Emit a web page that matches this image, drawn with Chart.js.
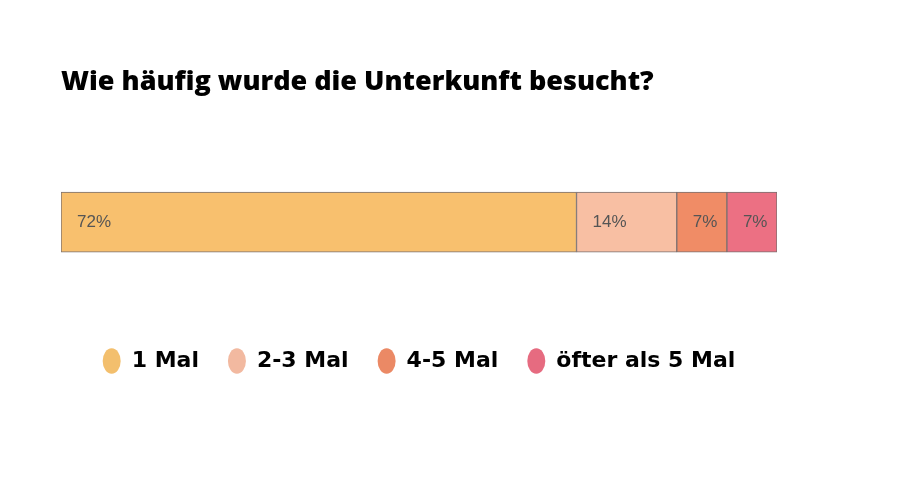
<!DOCTYPE html>
<html>
<head>
<meta charset="utf-8">
<script src="https://cdn.jsdelivr.net/npm/chart.js@4"></script>
<style>
  html, body { margin: 0; padding: 0; background: #fff; }
  #wrap { width: 900px; height: 501px; }
</style>
</head>
<body>
<div id="wrap"><canvas id="chart" width="900" height="501"></canvas></div>
<script>
// Daten
const categories = ["1 Mal", "2-3 Mal", "4-5 Mal", "öfter als 5 Mal"];
const values = [72, 14, 7, 7];
const colors = ["#f8c06e", "#f8bfa3", "#f08c66", "#ec7083"];
const legendColors = ["#f3bf6d", "#f2b9a0", "#eb8965", "#e66b80"];

// Prozentwerte in den Balken
const valueLabelPlugin = {
    id: "valueLabels",
    afterDatasetsDraw(chart) {
        const { ctx } = chart;
        ctx.save();
        ctx.font = "17px 'Liberation Sans', Arial, sans-serif";
        ctx.fillStyle = "#555555";
        ctx.textBaseline = "middle";
        ctx.textAlign = "left";
        chart.data.datasets.forEach((ds, i) => {
            const bar = chart.getDatasetMeta(i).data[0];
            const left = Math.min(bar.x, bar.base);
            ctx.fillText(ds.data[0] + "%", left + 16, bar.y);
        });
        ctx.restore();
    }
};

new Chart(document.getElementById("chart"), {
    type: "bar",
    data: {
        labels: [""],
        datasets: categories.map((c, i) => ({
            label: c,
            data: [values[i]],
            backgroundColor: colors[i],
            borderColor: "#7a7070",
            borderWidth: 1,
            borderSkipped: false,
            barThickness: 60
        }))
    },
    options: {
        indexAxis: "y",
        responsive: false,
        animation: false,
        layout: {
            padding: { left: 61, right: 123, top: 66, bottom: 119 }
        },
        scales: {
            x: { stacked: true, min: 0, max: 100, display: false },
            y: { stacked: true, display: false }
        },
        plugins: {
            title: {
                display: true,
                text: "Wie häufig wurde die Unterkunft besucht?",
                align: "start",
                color: "#000",
                font: { family: "Open Sans", size: 27, weight: 800 },
                padding: { top: 0, bottom: 25 }
            },
            legend: {
                position: "bottom",
                labels: {
                    usePointStyle: true,
                    pointStyle: "circle",
                    boxWidth: 18,
                    boxHeight: 18,
                    pointStyleWidth: 18,
                    padding: 29,
                    color: "#111",
                    font: { family: "DejaVu Sans", size: 22, weight: "bold" },
                    generateLabels(chart) {
                        return categories.map((c, i) => ({
                            text: c,
                            fillStyle: legendColors[i],
                            strokeStyle: legendColors[i],
                            lineWidth: 0,
                            pointStyle: "circle",
                            datasetIndex: i,
                            hidden: false
                        }));
                    }
                }
            },
            tooltip: { enabled: false }
        }
    },
    plugins: [valueLabelPlugin]
});
</script>
</body>
</html>
